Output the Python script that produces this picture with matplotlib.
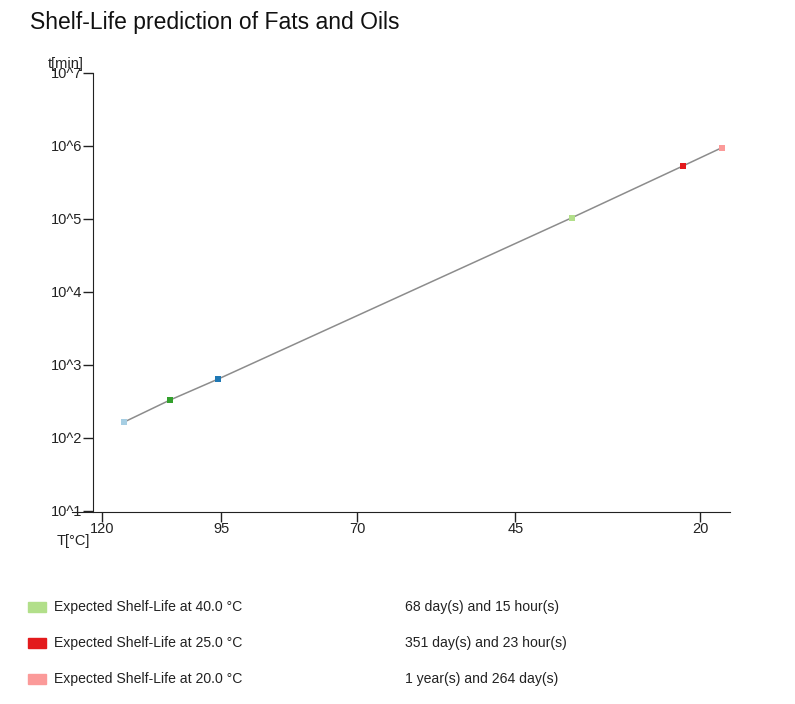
import matplotlib
matplotlib.use('Agg')
from matplotlib import pyplot as plt
from matplotlib.patches import Rectangle
import numpy as np

plt.rcParams['font.family'] = ['Liberation Sans', 'DejaVu Sans']

# measured points (temperature in C, shelf-life in minutes)
temps = [120, 110, 100, 40, 25, 20]
minutes = [165, 330, 640, 104000, 530000, 950000]
colors = ['#a6cee3', '#33a02c', '#1f78b4', '#b2df8a', '#e31a1c', '#fb9a99']

x_ticks = [120, 95, 70, 45, 20]
y_exps = [1, 2, 3, 4, 5, 6, 7]

legend_temps = [40.0, 25.0, 20.0]
legend_colors = ['#b2df8a', '#e31a1c', '#fb9a99']
legend_texts = ['68 day(s) and 15 hour(s)',
                '351 day(s) and 23 hour(s)',
                '1 year(s) and 264 day(s)']


def inv_t(t):
    # Arrhenius axis: 1000 / T[K]
    return 1000.0 / (np.asarray(t, dtype=float) + 273.15)


fig = plt.figure(figsize=(7.95, 7.04), dpi=100)
ax = fig.add_axes([72 / 795, 1 - 512 / 704, 658 / 795, 439 / 704])

x = inv_t(temps)
ax.plot(x, minutes, color='#8c8c8c', lw=1.1, zorder=1)
for xi, yi, c in zip(x, minutes, colors):
    ax.plot(xi, yi, 's', color=c, markersize=4.5, markeredgewidth=0, zorder=2)

ax.set_yscale('log')
ax.set_ylim(10 ** 0.986, 1e7)
ax.set_xlim(2.46811, 3.42283)

# the tick labels sit a little left of the points in the original
shift = 0.0319
ax.set_xticks(inv_t(x_ticks) - shift)
ax.set_xticklabels([str(t) for t in x_ticks])
ax.set_yticks([10.0 ** e for e in y_exps])
ax.set_yticklabels(['10^%d' % e for e in y_exps])
ax.yaxis.set_minor_locator(matplotlib.ticker.NullLocator())

for s in ['top', 'right']:
    ax.spines[s].set_visible(False)
ax.spines['left'].set_position(('axes', 21 / 658))
ax.spines['left'].set_color('#222222')
ax.spines['bottom'].set_color('#222222')
ax.tick_params(axis='both', colors='#222222', labelsize=10.5, length=7, width=1)
ax.tick_params(axis='y', pad=1)
ax.tick_params(axis='x', pad=0)

fig.text(48 / 795, 1 - 64 / 704, 't[min]', fontsize=10.5, va='center', ha='left', color='#222222')
fig.text(57 / 795, 1 - 541 / 704, 'T[°C]', fontsize=10.5, va='center', ha='left', color='#222222')
fig.text(30 / 795, 1 - 22 / 704, 'Shelf-Life prediction of Fats and Oils', fontsize=16.5,
         va='center', ha='left', color='#111111')

# legend / results table under the chart
for i, (lt, lc, txt) in enumerate(zip(legend_temps, legend_colors, legend_texts)):
    yc = 607 + i * 36
    fig.patches.append(Rectangle((28 / 795, 1 - (yc + 5) / 704), 18 / 795, 10 / 704,
                                 transform=fig.transFigure, color=lc))
    fig.text(54 / 795, 1 - yc / 704, 'Expected Shelf-Life at %.1f °C' % lt, fontsize=10.1,
             va='center', ha='left', color='#222222')
    fig.text(405 / 795, 1 - yc / 704, txt, fontsize=10.1, va='center', ha='left', color='#222222')

fig.savefig('out.png', dpi=100)
